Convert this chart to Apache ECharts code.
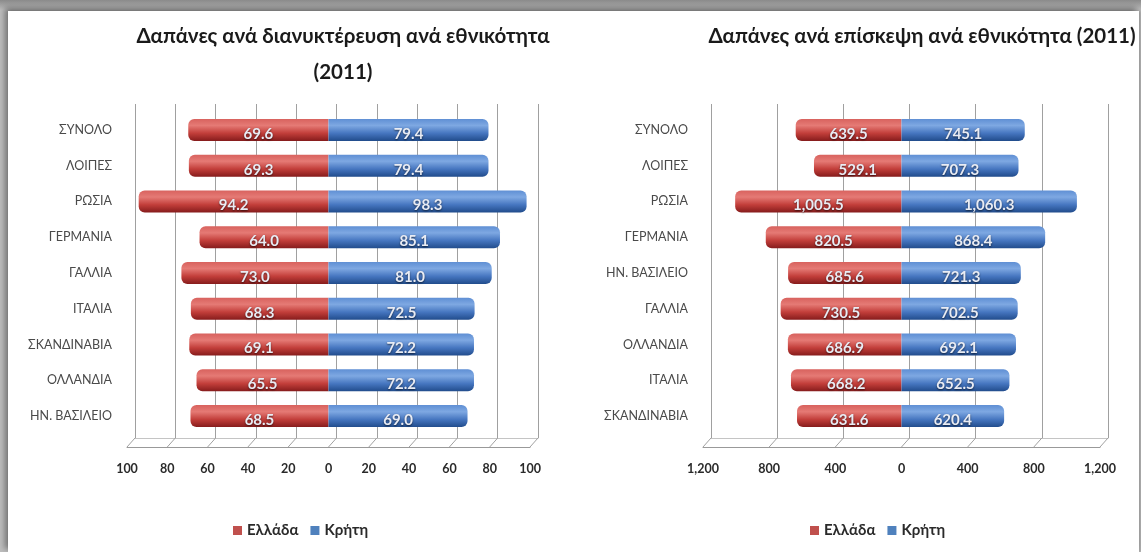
<!DOCTYPE html>
<html>
<head>
<meta charset="utf-8">
<script src="https://cdn.jsdelivr.net/npm/echarts@6/dist/echarts.min.js"></script>
<style>
  html, body { margin: 0; padding: 0; background: #fff; }
  #frame { position: absolute; left: 0; top: 0; width: 1141px; height: 552px;
           background: linear-gradient(to bottom, #8a8a8a 0px, #a8a8a8 6px, #bdbdbd 10px); overflow: hidden; }
  #panel { position: absolute; left: 8px; top: 11px; right: 2px; bottom: 0;
           background: #fff; box-shadow: -3px -3px 6px rgba(0,0,0,0.4), 2px 0 3px rgba(0,0,0,0.15); }
  #chart { position: absolute; left: 0; top: 0; width: 1141px; height: 552px; }
</style>
</head>
<body>
<div id="frame"><div id="panel"></div></div>
<div id="chart"></div>
<script>
// Spending per overnight stay by nationality (2011)
const nightCategories = ['ΣΥΝΟΛΟ', 'ΛΟΙΠΕΣ', 'ΡΩΣΙΑ', 'ΓΕΡΜΑΝΙΑ', 'ΓΑΛΛΙΑ', 'ΙΤΑΛΙΑ', 'ΣΚΑΝΔΙΝΑΒΙΑ', 'ΟΛΛΑΝΔΙΑ', 'ΗΝ. ΒΑΣΙΛΕΙΟ'];
const nightGreece = [69.6, 69.3, 94.2, 64.0, 73.0, 68.3, 69.1, 65.5, 68.5];
const nightCrete  = [79.4, 79.4, 98.3, 85.1, 81.0, 72.5, 72.2, 72.2, 69.0];
const nightTicks  = [-100, -80, -60, -40, -20, 0, 20, 40, 60, 80, 100];

// Spending per visit by nationality (2011)
const visitCategories = ['ΣΥΝΟΛΟ', 'ΛΟΙΠΕΣ', 'ΡΩΣΙΑ', 'ΓΕΡΜΑΝΙΑ', 'ΗΝ. ΒΑΣΙΛΕΙΟ', 'ΓΑΛΛΙΑ', 'ΟΛΛΑΝΔΙΑ', 'ΙΤΑΛΙΑ', 'ΣΚΑΝΔΙΝΑΒΙΑ'];
const visitGreece = [639.5, 529.1, 1005.5, 820.5, 685.6, 730.5, 686.9, 668.2, 631.6];
const visitCrete  = [745.1, 707.3, 1060.3, 868.4, 721.3, 702.5, 692.1, 652.5, 620.4];
const visitTicks  = [-1200, -800, -400, 0, 400, 800, 1200];

const seriesNames = ['Ελλάδα', 'Κρήτη'];

const FONT = 'Lato, "Noto Sans", sans-serif';

const redFill = { type: 'linear', x: 0, y: 0, x2: 0, y2: 1, colorStops: [
  { offset: 0, color: '#d8625e' }, { offset: 0.3, color: '#e57a75' },
  { offset: 0.65, color: '#c23e3a' }, { offset: 1, color: '#861c1c' } ] };
const blueFill = { type: 'linear', x: 0, y: 0, x2: 0, y2: 1, colorStops: [
  { offset: 0, color: '#5f8fd4' }, { offset: 0.3, color: '#7ea8e2' },
  { offset: 0.65, color: '#4676c0' }, { offset: 1, color: '#214c8c' } ] };

const fmtOne = v => Math.abs(v).toFixed(1);
const fmtThousands = v => Math.abs(v).toLocaleString('en-US', { minimumFractionDigits: 1, maximumFractionDigits: 1 });
const fmtTick = v => Math.abs(v).toLocaleString('en-US');

function valueLabel(fmt) {
  return {
    show: true, position: 'inside', offset: [0, 4],
    formatter: p => fmt(p.value),
    color: '#e9ecf4', fontFamily: FONT, fontSize: 15, fontWeight: 'bold',
    textShadowColor: 'rgba(0,0,0,0.6)', textShadowBlur: 2, textShadowOffsetY: 1
  };
}

// one panel: bar grid, back wall grid, floor grid
function panel(idx, left, width, max, interval, cats, greece, crete, ticks, fmt) {
  const g = idx * 3;
  const grids = [
    { left: left, width: width, top: 112, height: 322 },             // bars
    { left: left + 8, width: width, top: 104, height: 334 },         // back wall
    { left: left, width: width, top: 438, height: 9 }                // floor
  ];
  const xAxes = [
    { gridIndex: g, type: 'value', min: -max, max: max, interval: interval, show: false },
    { gridIndex: g + 1, type: 'value', min: -max, max: max, interval: interval,
      axisLabel: { show: false }, axisTick: { show: false },
      axisLine: { show: true, lineStyle: { color: '#c4c4c4' } },
      splitLine: { show: true, lineStyle: { color: '#a0a0a0', width: 1 } } },
    { gridIndex: g + 2, type: 'value', min: -max, max: max, interval: interval,
      axisTick: { show: false }, splitLine: { show: false },
      axisLine: { show: true, lineStyle: { color: '#999' } },
      axisLabel: { margin: 15, formatter: fmtTick, color: '#2a2a2a', fontFamily: FONT,
                   fontSize: 12.5, fontWeight: 'bold' } }
  ];
  const yAxes = [
    { gridIndex: g, type: 'category', data: cats, inverse: true,
      axisLine: { show: false }, axisTick: { show: false }, splitLine: { show: false },
      axisLabel: { margin: 15, color: '#4a4a4a', fontFamily: FONT, fontSize: 12.5 } },
    { gridIndex: g + 1, type: 'value', show: false, min: 0, max: 1, splitLine: { show: false } },
    { gridIndex: g + 2, type: 'value', show: false, min: 0, max: 1, splitLine: { show: false } }
  ];
  const series = [
    { name: seriesNames[0], type: 'bar', xAxisIndex: g, yAxisIndex: g, stack: 'v' + idx,
      data: greece.map(v => -v), barWidth: 22,
      itemStyle: { color: redFill, borderRadius: [6, 0, 0, 6] },
      label: valueLabel(fmt) },
    { name: seriesNames[1], type: 'bar', xAxisIndex: g, yAxisIndex: g, stack: 'v' + idx,
      data: crete, barWidth: 22,
      itemStyle: { color: blueFill, borderRadius: [0, 6, 6, 0] },
      label: valueLabel(fmt) },
    { type: 'custom', xAxisIndex: g + 2, yAxisIndex: g + 2, silent: true,
      data: ticks.map(v => [v, 0]),
      renderItem: (params, api) => {
        const b = api.coord([api.value(0), 0]);
        const t = api.coord([api.value(0), 1]);
        return { type: 'line', shape: { x1: b[0], y1: b[1], x2: b[0] + 8, y2: t[1] },
                 style: { stroke: '#a0a0a0', lineWidth: 1 } };
      } }
  ];
  return { grids, xAxes, yAxes, series };
}

const p1 = panel(0, 127, 403, 100, 20, nightCategories, nightGreece, nightCrete, nightTicks, fmtOne);
const p2 = panel(1, 703, 397, 1200, 400, visitCategories, visitGreece, visitCrete, visitTicks, fmtThousands);

const legendData = [
  { name: seriesNames[0], itemStyle: { color: '#c0504d' } },
  { name: seriesNames[1], itemStyle: { color: '#4f81bd' } }
];
const legendBase = { top: 518, icon: 'rect', itemWidth: 9, itemHeight: 9, itemGap: 12,
  data: legendData, textStyle: { color: '#2a2a2a', fontFamily: FONT, fontSize: 15, fontWeight: 'bold' } };

const titleStyle = { fontFamily: FONT, fontSize: 20.5, fontWeight: 'bold', color: '#1a1a1a', lineHeight: 36 };

const chart = echarts.init(document.getElementById('chart'), null, { renderer: 'canvas' });
chart.setOption({
  backgroundColor: 'transparent',
  animation: false,
  title: [
    { text: 'Δαπάνες ανά διανυκτέρευση ανά εθνικότητα\n(2011)', left: 338, top: 13, textAlign: 'center',
      textStyle: titleStyle },
    { text: 'Δαπάνες ανά επίσκεψη ανά εθνικότητα (2011)', left: 917, top: 13, textAlign: 'center',
      textStyle: titleStyle }
  ],
  legend: [
    Object.assign({ left: 228 }, legendBase),
    Object.assign({ left: 805 }, legendBase)
  ],
  grid: p1.grids.concat(p2.grids),
  xAxis: p1.xAxes.concat(p2.xAxes),
  yAxis: p1.yAxes.concat(p2.yAxes),
  series: p1.series.concat(p2.series)
});
</script>
</body>
</html>
